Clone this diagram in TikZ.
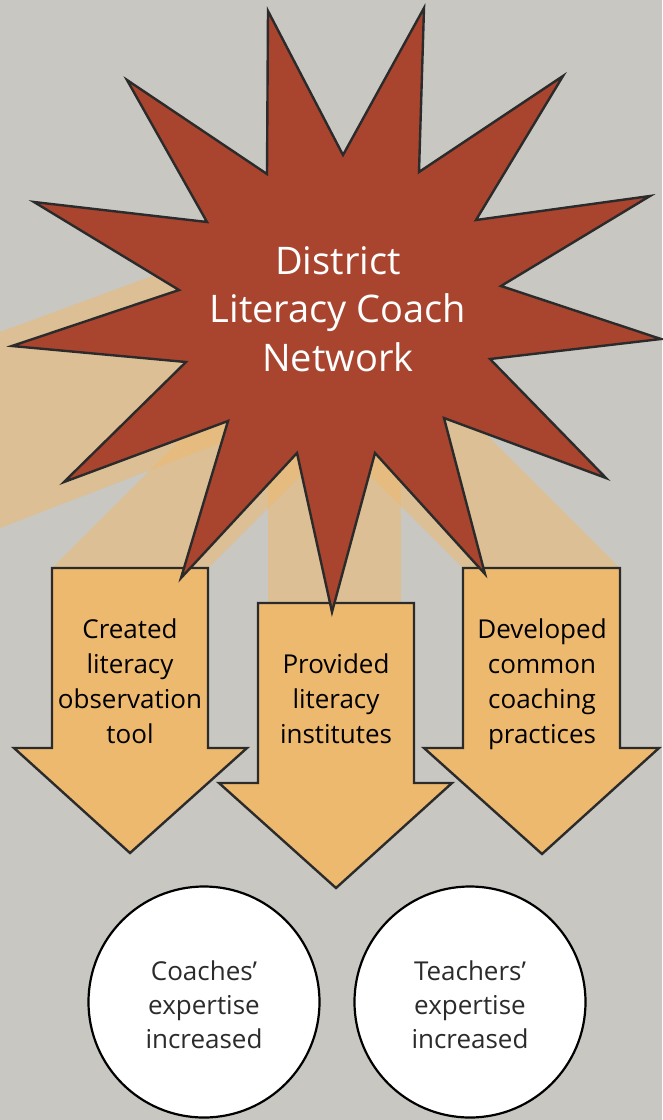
\documentclass[tikz,border=0pt]{standalone}
\usepackage{fontspec}
\setmainfont{Open Sans}
\definecolor{bg}{HTML}{C8C7C2}
\definecolor{rust}{HTML}{A9452F}
\definecolor{amber}{HTML}{EDB96F}
\definecolor{ink}{HTML}{2B2B2B}
\begin{document}
\begin{tikzpicture}[x=1pt,y=-1pt,
  ray/.style={fill=amber, fill opacity=0.55, draw=none},
  outlined/.style={draw=ink, line width=2.4pt, line join=miter},
  downarrow/.style={outlined, fill=amber},
  burst/.style={outlined, fill=rust},
  hubtext/.style={align=center, text=white, font=\fontsize{38}{48.5}\selectfont},
  arrowtext/.style={align=center, text=black, font=\fontsize{26}{35}\selectfont},
  bubble/.style={circle, draw=black, line width=2.2pt, fill=white,
    minimum size=231pt, inner sep=0pt},
  bubbletext/.style={align=center, text=ink, font=\fontsize{26}{34}\selectfont}]

% canvas
\fill[bg] (0,0) rectangle (662,1120);
\useasboundingbox (0,0) rectangle (662,1120);

% light beams behind the burst
\fill[ray] (0,332) -- (340,207) -- (340,397) -- (0,528) -- cycle;
\fill[ray] (52,568) -- (208,568) -- (408,368) -- (252,368) -- cycle;
\fill[ray] (268,350) rectangle (401,603);
\fill[ray] (463,568) -- (620,568) -- (420,368) -- (263,368) -- cycle;

% block arrows
\draw[downarrow] (52,568) -- (208,568) -- (208,748) -- (247,748) -- (130,853)
  -- (14,748) -- (52,748) -- cycle;
\draw[downarrow] (258,603) -- (414,603) -- (414,783) -- (452,783) -- (336,888)
  -- (219,783) -- (258,783) -- cycle;
\draw[downarrow] (463,568) -- (620,568) -- (620,748) -- (659,748) -- (542,854)
  -- (424,748) -- (463,748) -- cycle;

% thirteen-point burst
\draw[burst] (268,11) -- (343,155) -- (424,8) -- (419,172) -- (563,76)
  -- (476,220) -- (650,196) -- (501,286) -- (661,339) -- (490,359)
  -- (606,478) -- (444,418) -- (485,574) -- (375,453) -- (332,612)
  -- (297,453) -- (181,578) -- (228,421) -- (64,482) -- (186,362)
  -- (12,346) -- (179,290) -- (34,202) -- (207,222) -- (127,80)
  -- (267,174) -- cycle;

\node[hubtext] (hub) at (338,309) {District\\Literacy Coach\\Network};

\node[arrowtext] (tool) at (130,681) {Created\\literacy\\observation\\tool};
\node[arrowtext] (inst) at (336,699) {Provided\\literacy\\institutes};
\node[arrowtext] (prac) at (542,684) {Developed\\common\\coaching\\practices};

% outcome circles
\node[bubble] (coach) at (204,1002) {};
\node[bubble] (teach) at (470,1002) {};
\node[bubbletext] (coachlbl) at (coach.center) [yshift=-2.5pt] {Coaches’\\expertise\\increased};
\node[bubbletext] (teachlbl) at (teach.center) [yshift=-2.5pt] {Teachers’\\expertise\\increased};
\end{tikzpicture}
\end{document}
